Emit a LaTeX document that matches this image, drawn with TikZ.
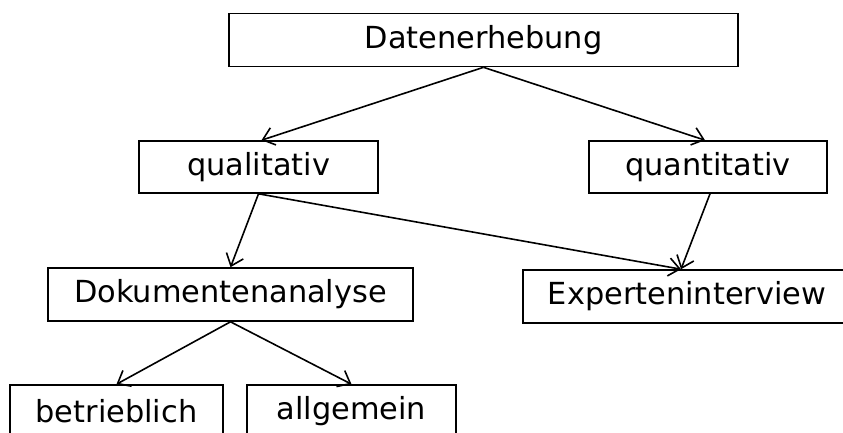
\documentclass[tikz,border=0pt]{standalone}
\usepackage{fontspec}
\setmainfont{DejaVu Sans}
\usetikzlibrary{arrows.meta}
\begin{document}
\begin{tikzpicture}[x=1bp,y=-1bp,
	box/.style={draw,line width=1.6bp,inner sep=0pt,minimum height=53bp,font=\fontsize{30.5}{36}\selectfont},
	pfeil/.style={-{Straight Barb[length=11bp,width=18bp]},line width=1.6bp}]
	\useasboundingbox (0,0) rectangle (843,432);
	\clip (0,0) rectangle (843,432);
	\node[box,minimum width=509bp] (daten) at (483.5,40) {Datenerhebung};
	\node[box,minimum width=239bp,minimum height=52bp] (quali) at (258.5,167) {qualitativ};
	\node[box,minimum width=238bp,minimum height=52bp] (quanti) at (708,167) {quantitativ};
	\node[box,minimum width=365bp] (doku) at (230.5,294.5) {Dokumentenanalyse};
	\node[box,minimum width=328bp] (experten) at (687,296.5) {Experteninterview};
	\node[box,minimum width=213bp] (betrieb) at (116.5,411.5) {betrieblich};
	\node[box,minimum width=209bp] (allg) at (351.5,411.5) {allgemein};
	\coordinate (ziel) at ([xshift=-6bp]experten.north);
	\draw[pfeil] (daten.south) -- ([xshift=3bp]quali.north);
	\draw[pfeil] (daten.south) -- ([xshift=-3bp]quanti.north);
	\draw[pfeil] (quali.south) -- (doku.north);
	\draw[pfeil] (quali.south) -- (ziel);
	\draw[pfeil] ([xshift=2bp]quanti.south) -- (ziel);
	\draw[pfeil] (doku.south) -- (betrieb.north);
	\draw[pfeil] (doku.south) -- (allg.north);
\end{tikzpicture}
\end{document}
